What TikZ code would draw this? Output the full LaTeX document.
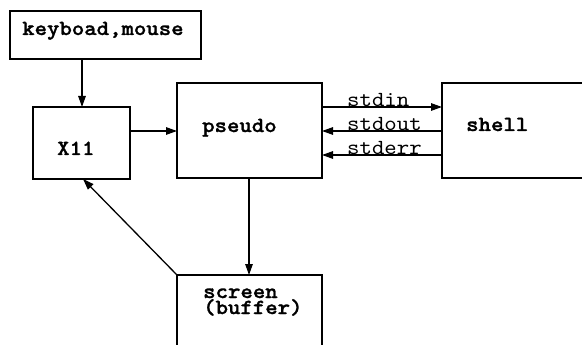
\documentclass[tikz,border=0pt]{standalone}
\usepackage{fontspec}
\newfontfamily\courfont{lmmono10-regular.otf}[BoldFont=lmmonolt10-bold.otf,BoldFeatures={FakeBold=1.2},FakeStretch=1.1]
\usetikzlibrary{arrows.meta}
\begin{document}
\begin{tikzpicture}[x=1pt,y=-1pt,
  box/.style={draw,line width=1.3pt,inner sep=0pt,outer sep=0pt},
  lbl/.style={font=\courfont\bfseries\fontsize{21.5}{16}\selectfont,anchor=base west,inner sep=0pt},
  slbl/.style={font=\courfont\fontsize{21.5}{16}\selectfont,anchor=base west,inner sep=0pt},
  arr/.style={line width=1.3pt,-{Triangle[length=11pt,width=7.5pt]}}]
\clip (0,0) rectangle (582,345);
\fill[white] (0,0) rectangle (582,345);
% boxes
\node[box,minimum width=191pt,minimum height=48pt] (kb) at (105.5,35) {};
\node[box,minimum width=97pt,minimum height=72pt] (x11) at (81.5,143) {};
\node[box,minimum width=145pt,minimum height=95pt] (ps) at (249.5,130.5) {};
\node[box,minimum width=160pt,minimum height=95pt] (sh) at (522,130.5) {};
\node[box,minimum width=145pt,minimum height=100pt] (sc) at (249.5,325) {};
% labels
\node[lbl] (tkb) at (22,35) {keyboad,mouse};
\node[lbl] (tx11) at (57,155) {X11};
\node[lbl] (tps) at (202,132) {pseudo};
\node[lbl] (tsh) at (466,131) {shell};
\node[lbl,align=left] (tsc) at (203,314) {screen\\(buffer)};
\node[slbl] (tin) at (347,107) {stdin};
\node[slbl] (tout) at (347,131) {stdout};
\node[slbl] (terr) at (347,155) {stderr};
% connector coordinates
\coordinate (kbx) at (82,59);
\coordinate (x11t) at (82,107);
\coordinate (x11r) at (130,131);
\coordinate (psl) at (177,131);
\coordinate (in1) at (322,107);
\coordinate (in2) at (442,107);
\coordinate (out1) at (442,131);
\coordinate (out2) at (322,131);
\coordinate (err1) at (442,155);
\coordinate (err2) at (322,155);
\coordinate (psb) at (249,178);
\coordinate (sct) at (249,275);
\coordinate (scc) at (177,275);
\coordinate (x11b) at (83,179);
\draw[arr] (kbx) -- (x11t);
\draw[arr] (x11r) -- (psl);
\draw[arr] (in1) -- (in2);
\draw[arr] (out1) -- (out2);
\draw[arr] (err1) -- (err2);
\draw[arr] (psb) -- (sct);
\draw[arr] (scc) -- (x11b);
\end{tikzpicture}
\end{document}
